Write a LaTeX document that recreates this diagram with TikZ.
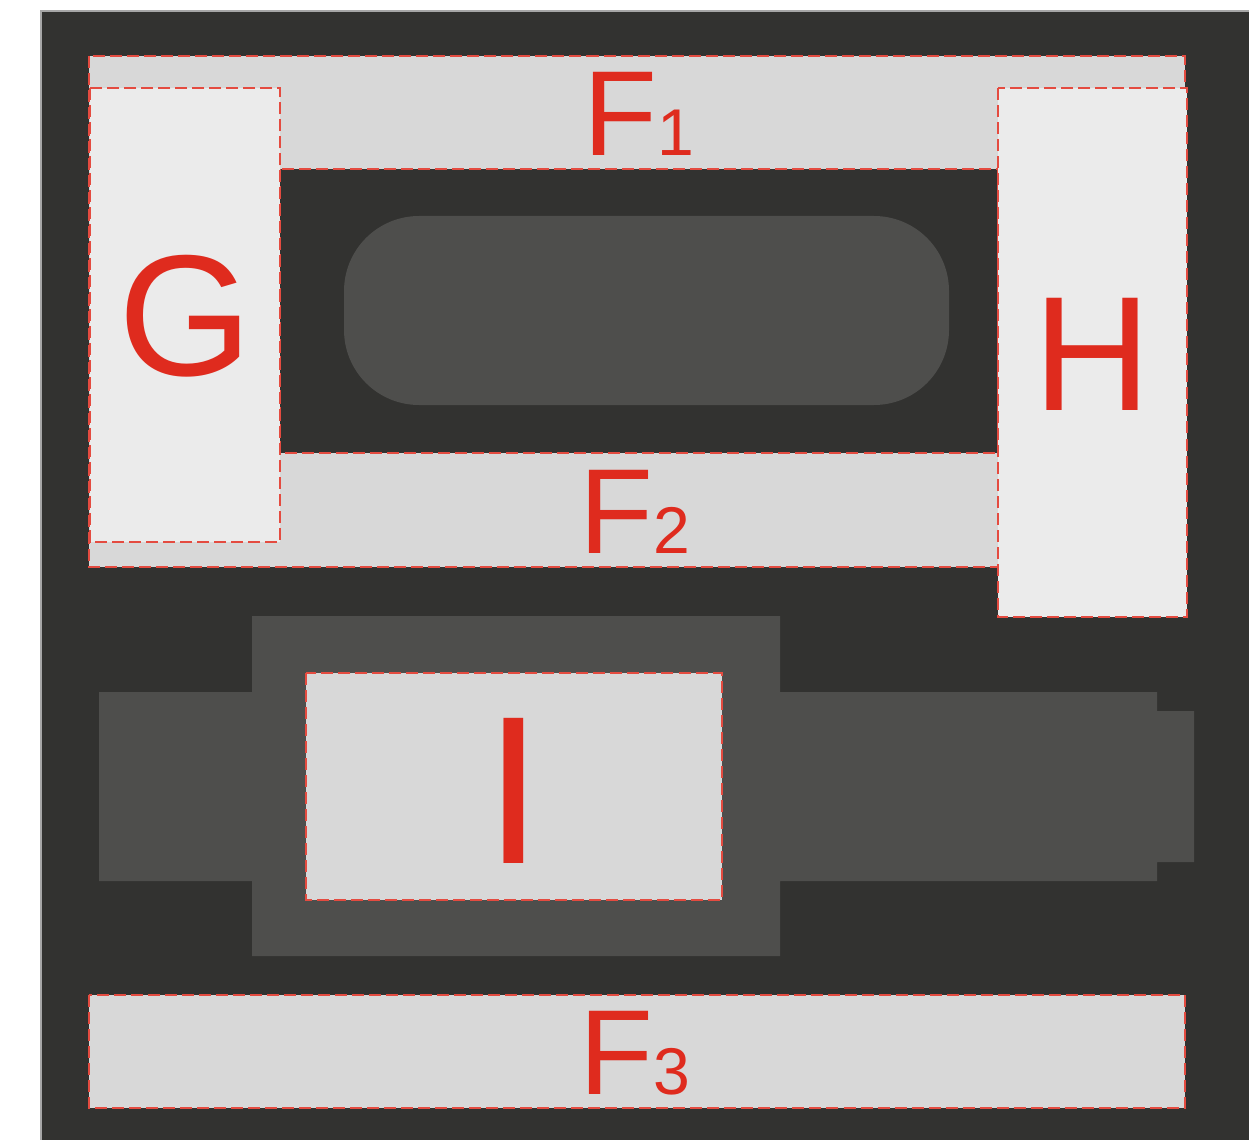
\documentclass[tikz,border=0pt]{standalone}
\usepackage{fontspec}
\setmainfont{Liberation Sans}
\usetikzlibrary{positioning}
\definecolor{panel}{HTML}{323230}
\definecolor{part}{HTML}{4E4E4C}
\definecolor{zonegray}{HTML}{D8D8D8}
\definecolor{zonelight}{HTML}{EBEBEB}
\definecolor{markred}{HTML}{DF2B1E}
\newcommand{\zonename}[2]{{\fontsize{34.4}{40}\selectfont #1}{\fontsize{18.8}{22}\selectfont #2}}

\begin{document}
\begin{tikzpicture}[x=0.01cm, y=-0.01cm,
  zone/.style={fill=zonegray, draw=markred!85, line width=0.55pt, dash pattern=on 0.12cm off 0.05cm},
  lightzone/.style={zone, fill=zonelight},
  hole/.style={zone, fill=panel},
  lbl/.style={text=markred, inner sep=0pt},
]
\useasboundingbox (0,0) rectangle (1249,1140);

% === background ===
\fill[white] (0,0) rectangle (1249,1140);
\filldraw[fill=panel, draw=gray!70, line width=0.4pt] (41,11) rectangle (1252,1143);

% === upper part ===
\draw[zone] (89,56) rectangle (1185,567);
\draw[hole] (280,169) rectangle (998,453);
\fill[part, rounded corners=0.75cm] (344,216) rectangle (949,405);
\draw[lightzone] (90,88) rectangle (280,542);
\draw[lightzone] (998,88) rectangle (1187,617);

% === lower part ===
\fill[part] (99,692) -- (252,692) -- (252,616) -- (780,616) -- (780,692)
  -- (1157,692) -- (1157,711) -- (1194,711) -- (1194,862) -- (1157,862)
  -- (1157,881) -- (780,881) -- (780,956) -- (252,956) -- (252,881)
  -- (99,881) -- cycle;
\draw[zone] (306,673) rectangle (722,900);
\draw[zone] (89,995) rectangle (1185,1108);

% === labels ===
\node[lbl, anchor=base west] (f1) at (583,156) {\zonename{F}{1}};
\node[lbl, anchor=base west] (f2) at (579,553) {\zonename{F}{2}};
\node[lbl, anchor=base west] (f3) at (579,1094) {\zonename{F}{3}};
\node[lbl, anchor=base, font=\fontsize{49}{54}\selectfont] (g) at (186,376) {G};
\node[lbl, anchor=base, font=\fontsize{46.4}{52}\selectfont] (h) at (1092,410) {H};
\node[lbl, anchor=base, font=\fontsize{60}{66}\selectfont] (i) at (514,863) {I};

\end{tikzpicture}
\end{document}
